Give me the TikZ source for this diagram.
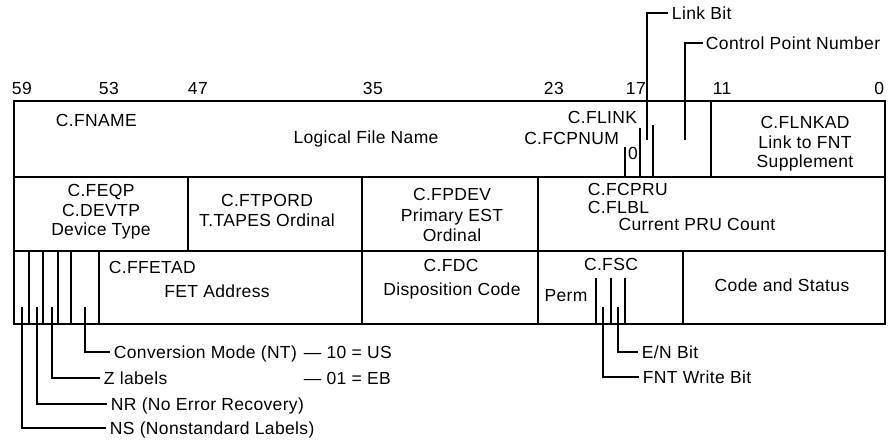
\documentclass[tikz,border=0pt]{standalone}
\usepackage{fontspec}
\setmainfont{Liberation Sans}[LetterSpace=2.0]
\begin{document}
\begin{tikzpicture}[x=1pt,y=-1pt,line width=1.9pt,
  lbl/.style={inner sep=0pt,font=\fontsize{17.5}{21}\selectfont,text height=12.5pt,text depth=0pt},
  leader/.style={line width=1.9pt,shorten >=3pt}]
\useasboundingbox (0,0) rectangle (890,443);
% bit numbers
\node[lbl,anchor=west] (b59) at (11,88) {59};
\node[lbl,anchor=west] (b53) at (98,88) {53};
\node[lbl,anchor=west] (b47) at (187,88) {47};
\node[lbl,anchor=west] (b35) at (362,88) {35};
\node[lbl,anchor=west] (b23) at (543,88) {23};
\node[lbl,anchor=west] (b17) at (625,88) {17};
\node[lbl,anchor=west] (b11) at (712,88) {11};
\node[lbl,anchor=east] (b0) at (885,88) {0};
% frame and rows
\draw (14,101) rectangle (885,324);
\draw (14,177) -- (885,177);
\draw (14,251) -- (885,251);
% row 1
\draw (711,101) -- (711,177);
\draw (625,147) -- (625,177);
\draw (640,128) -- (640,177);
\draw (653,125) -- (653,177);
\node[lbl,anchor=west] (fname) at (55,120) {C.FNAME};
\node[lbl] (lfn) at (366,137) {Logical File Name};
\node[lbl,anchor=east] (flink) at (638,117) {C.FLINK};
\node[lbl,anchor=east] (fcpnum) at (620,138) {C.FCPNUM};
\node[lbl] (zero) at (633,153) {0};
\node[lbl] (flnkad) at (805,122) {C.FLNKAD};
\node[lbl] (lfnt) at (805,142) {Link to FNT};
\node[lbl] (supp) at (805,161) {Supplement};
\coordinate (lbit) at (647,140);
\coordinate (cpbit) at (685,140);
\node[lbl,anchor=west] (tlbit) at (671,13) {Link Bit};
\node[lbl,anchor=west] (tcp) at (705,43) {Control Point Number};
\draw[leader] (lbit) |- (tlbit.west);
\draw[leader,shorten >=2pt] (cpbit) |- (tcp.west);
% row 2
\draw (188,177) -- (188,251);
\draw (362,177) -- (362,251);
\draw (538,177) -- (538,251);
\node[lbl] (feqp) at (101,190) {C.FEQP};
\node[lbl] (devtp) at (101,210) {C.DEVTP};
\node[lbl] (devtype) at (101,229) {Device Type};
\node[lbl] (ftpord) at (267,200) {C.FTPORD};
\node[lbl] (tapes) at (267,220) {T.TAPES Ordinal};
\node[lbl] (fpdev) at (452,194) {C.FPDEV};
\node[lbl] (pest) at (452,215) {Primary EST};
\node[lbl] (ord) at (452,235) {Ordinal};
\node[lbl,anchor=west] (fcpru) at (587,189) {C.FCPRU};
\node[lbl,anchor=west] (flbl) at (587,207) {C.FLBL};
\node[lbl] (cpru) at (697,224) {Current PRU Count};
% row 3
\draw (99,251) -- (99,324);
\draw (362,251) -- (362,324);
\draw (538,251) -- (538,324);
\draw (683,251) -- (683,324);
\foreach \x in {29,43,58,71} \draw (\x,251) -- (\x,324);
\foreach \x in {596,611,625} \draw (\x,278) -- (\x,324);
\node[lbl,anchor=west] (ffetad) at (108,267) {C.FFETAD};
\node[lbl] (fetad) at (217,291) {FET Address};
\node[lbl] (fdc) at (451,265) {C.FDC};
\node[lbl] (dispc) at (452,289) {Disposition Code};
\node[lbl] (fsc) at (611,264) {C.FSC};
\node[lbl] (perm) at (566,295) {Perm};
\node[lbl] (cas) at (782,285) {Code and Status};
% bottom leaders, left
\coordinate (ns) at (22,307);
\coordinate (nr) at (37,307);
\coordinate (zl) at (52,307);
\coordinate (cm) at (85,307);
\node[lbl,anchor=west] (tcm) at (113,352) {Conversion Mode (NT)};
\node[lbl,anchor=west] (tus) at (303,352) {— 10 = US};
\node[lbl,anchor=west] (tzl) at (103,378) {Z labels};
\node[lbl,anchor=west] (teb) at (303,378) {— 01 = EB};
\node[lbl,anchor=west] (tnr) at (110,404) {NR (No Error Recovery)};
\node[lbl,anchor=west] (tns) at (109,428) {NS (Nonstandard Labels)};
\draw[leader] (cm) |- (tcm.west);
\draw[leader] (zl) |- (tzl.west);
\draw[leader] (nr) |- (tnr.west);
\draw[leader] (ns) |- (tns.west);
% bottom leaders, right
\coordinate (enb) at (618,307);
\coordinate (fwb) at (603,307);
\node[lbl,anchor=west] (ten) at (641,352) {E/N Bit};
\node[lbl,anchor=west] (tfw) at (642,377) {FNT Write Bit};
\draw[leader] (enb) |- (ten.west);
\draw[leader] (fwb) |- (tfw.west);
\end{tikzpicture}
\end{document}
